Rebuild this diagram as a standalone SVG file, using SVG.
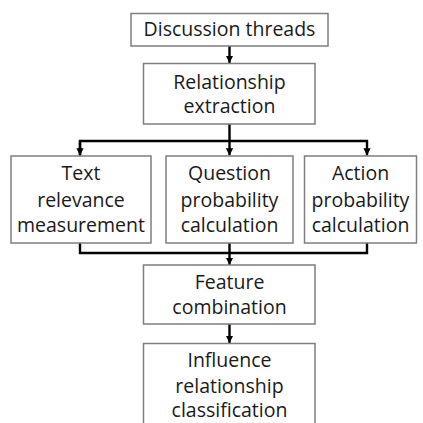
<svg xmlns="http://www.w3.org/2000/svg" width="423" height="423" viewBox="0 0 423 423">
<style>
.box{fill:#fff;stroke:#7f7f7f;stroke-width:1.5}
.lbl{font-family:"Open Sans","Noto Sans",sans-serif;font-size:19.5px;fill:#1a1a1a;text-anchor:middle}
.con{fill:none;stroke:#000;stroke-width:2.4}
</style>
<defs>
<marker id="ah" viewBox="0 0 10 10" refX="10" refY="5" markerWidth="3" markerHeight="3.2" orient="auto" markerUnits="strokeWidth">
<path d="M0,0 L10,5 L0,10 z" fill="#000"/>
</marker>
</defs>
<rect width="423" height="423" fill="#fff"/>
<g id="connectors">
<line class="con" x1="229.5" y1="46" x2="229.5" y2="63" marker-end="url(#ah)"/>
<line class="con" x1="229.5" y1="124" x2="229.5" y2="155.5" marker-end="url(#ah)"/>
<polyline class="con" points="80,155.5 80,141 367,141 367,155.5" marker-end="url(#ah)"/>
<line class="con" x1="80" y1="141" x2="80" y2="155.5" marker-end="url(#ah)"/>
<polyline class="con" points="80,243 80,253 367,253 367,243"/>
<line class="con" x1="229.5" y1="243" x2="229.5" y2="265" marker-end="url(#ah)"/>
<line class="con" x1="229.5" y1="324" x2="229.5" y2="343" marker-end="url(#ah)"/>
</g>
<g id="discussion">
<rect class="box" x="131" y="13.5" width="197" height="32.5"/>
<text class="lbl" x="229.5" y="36">Discussion threads</text>
</g>
<g id="relationship">
<rect class="box" x="143.5" y="63.5" width="171.5" height="60.5"/>
<text class="lbl" x="229.5" y="88.5">Relationship</text>
<text class="lbl" x="229.5" y="113">extraction</text>
</g>
<g id="text-relevance">
<rect class="box" x="11" y="156" width="140" height="87"/>
<text class="lbl" x="81" y="180">Text</text>
<text class="lbl" x="81" y="206.5">relevance</text>
<text class="lbl" x="81" y="232">measurement</text>
</g>
<g id="question">
<rect class="box" x="166" y="156" width="127" height="87"/>
<text class="lbl" x="229.5" y="180">Question</text>
<text class="lbl" x="229.5" y="206.5">probability</text>
<text class="lbl" x="229.5" y="232">calculation</text>
</g>
<g id="action">
<rect class="box" x="304.5" y="156" width="112" height="87"/>
<text class="lbl" x="360.5" y="180">Action</text>
<text class="lbl" x="360.5" y="206.5">probability</text>
<text class="lbl" x="360.5" y="232">calculation</text>
</g>
<g id="feature">
<rect class="box" x="143.5" y="265" width="171.5" height="59"/>
<text class="lbl" x="229.5" y="288.5">Feature</text>
<text class="lbl" x="229.5" y="314">combination</text>
</g>
<g id="influence">
<rect class="box" x="143.5" y="343.5" width="171.5" height="90"/>
<text class="lbl" x="229.5" y="367">Influence</text>
<text class="lbl" x="229.5" y="392.5">relationship</text>
<text class="lbl" x="229.5" y="417">classification</text>
</g>
</svg>
